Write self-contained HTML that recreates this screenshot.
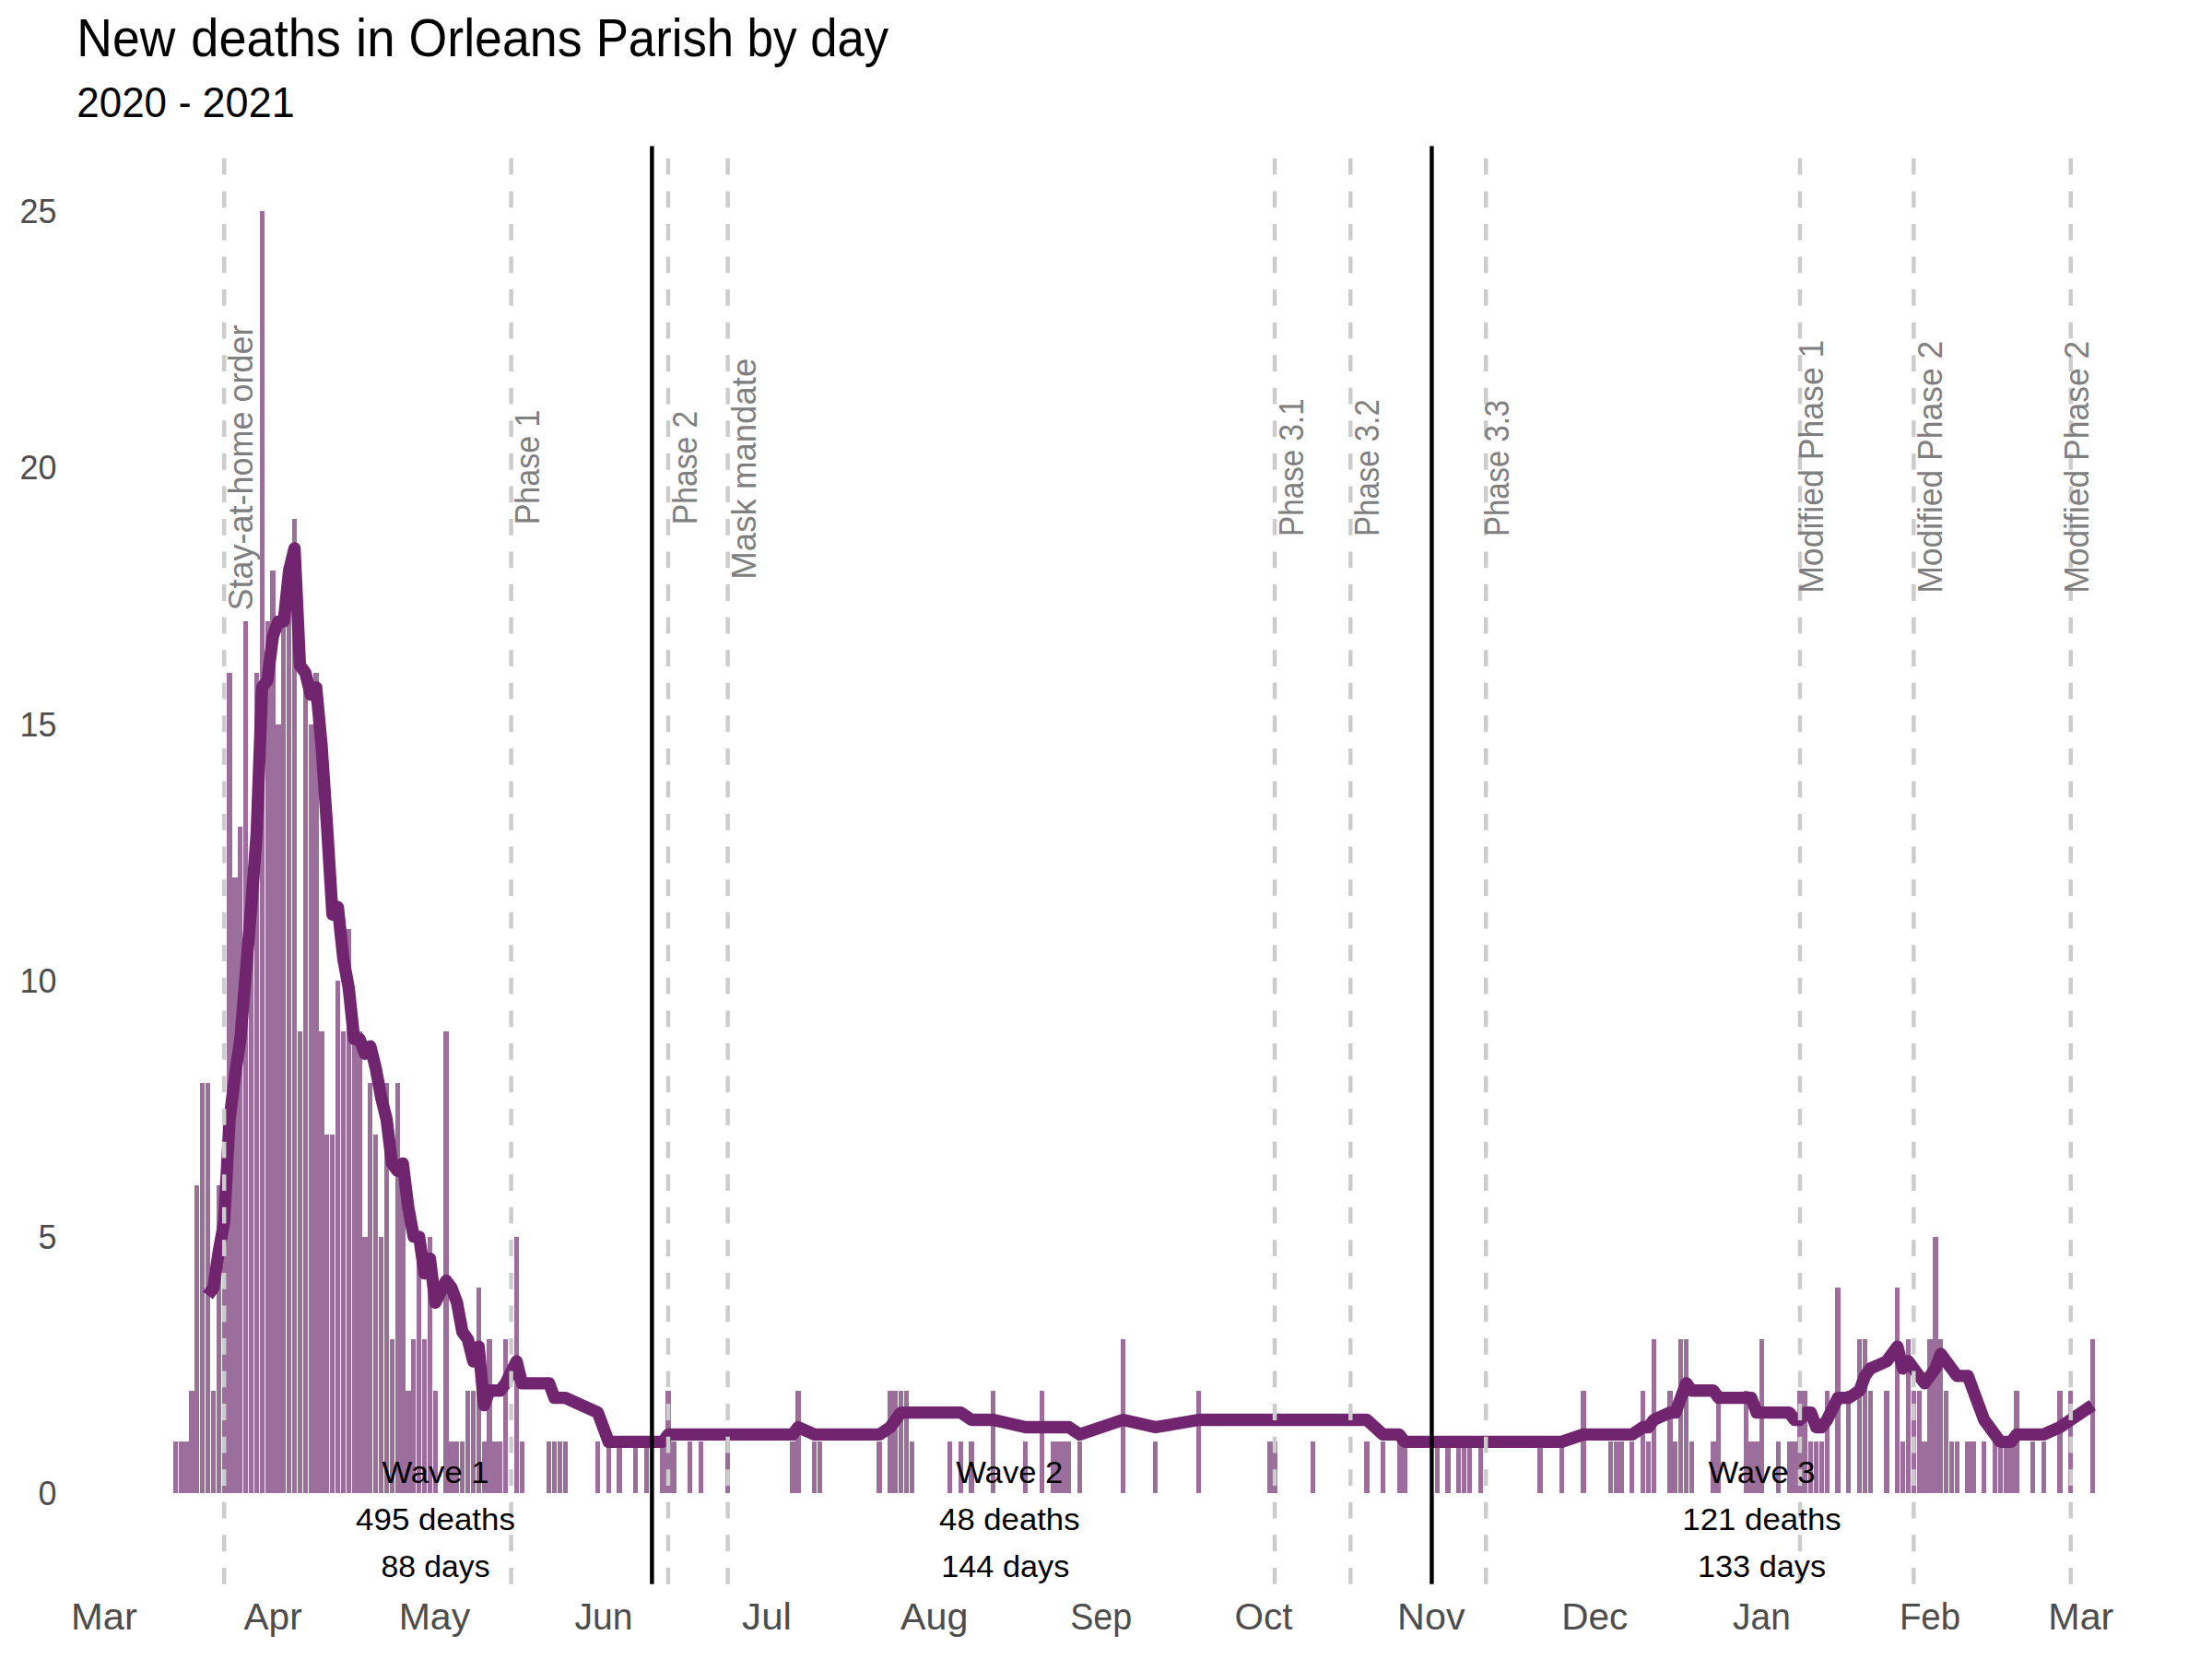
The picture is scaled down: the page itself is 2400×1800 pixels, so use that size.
<!DOCTYPE html>
<html><head><meta charset="utf-8"><title>New deaths in Orleans Parish by day</title>
<style>html,body{margin:0;padding:0;background:#fff}body{width:2400px;height:1800px;overflow:hidden}svg{display:block}text{font-family:"Liberation Sans",sans-serif}</style></head><body>
<svg width="2400" height="1800" viewBox="0 0 2400 1800">
<rect width="2400" height="1800" fill="#ffffff"/>
<g fill="#9B6E9B" shape-rendering="crispEdges">
<rect x="188" y="1564" width="5" height="56"/>
<rect x="194" y="1564" width="5" height="56"/>
<rect x="199" y="1564" width="6" height="56"/>
<rect x="205" y="1509" width="6" height="111"/>
<rect x="211" y="1286" width="5" height="334"/>
<rect x="217" y="1175" width="5" height="445"/>
<rect x="223" y="1175" width="5" height="445"/>
<rect x="229" y="1509" width="5" height="111"/>
<rect x="235" y="1286" width="5" height="334"/>
<rect x="241" y="1342" width="5" height="278"/>
<rect x="246" y="730" width="6" height="890"/>
<rect x="252" y="952" width="6" height="668"/>
<rect x="258" y="897" width="5" height="723"/>
<rect x="264" y="674" width="5" height="946"/>
<rect x="270" y="1008" width="5" height="612"/>
<rect x="276" y="730" width="5" height="890"/>
<rect x="282" y="229" width="5" height="1391"/>
<rect x="288" y="674" width="5" height="946"/>
<rect x="293" y="619" width="6" height="1001"/>
<rect x="299" y="786" width="6" height="834"/>
<rect x="305" y="674" width="5" height="946"/>
<rect x="311" y="619" width="5" height="1001"/>
<rect x="317" y="563" width="5" height="1057"/>
<rect x="323" y="1119" width="5" height="501"/>
<rect x="329" y="730" width="5" height="890"/>
<rect x="335" y="786" width="5" height="834"/>
<rect x="340" y="730" width="6" height="890"/>
<rect x="346" y="1119" width="6" height="501"/>
<rect x="352" y="1231" width="5" height="389"/>
<rect x="358" y="1231" width="5" height="389"/>
<rect x="364" y="1064" width="5" height="556"/>
<rect x="370" y="1119" width="5" height="501"/>
<rect x="376" y="1008" width="5" height="612"/>
<rect x="382" y="1119" width="5" height="501"/>
<rect x="387" y="1119" width="6" height="501"/>
<rect x="393" y="1342" width="6" height="278"/>
<rect x="399" y="1175" width="5" height="445"/>
<rect x="405" y="1231" width="5" height="389"/>
<rect x="411" y="1342" width="5" height="278"/>
<rect x="417" y="1175" width="5" height="445"/>
<rect x="423" y="1453" width="5" height="167"/>
<rect x="429" y="1175" width="5" height="445"/>
<rect x="434" y="1286" width="6" height="334"/>
<rect x="440" y="1509" width="6" height="111"/>
<rect x="446" y="1453" width="5" height="167"/>
<rect x="452" y="1342" width="5" height="278"/>
<rect x="458" y="1453" width="5" height="167"/>
<rect x="464" y="1342" width="5" height="278"/>
<rect x="470" y="1509" width="5" height="111"/>
<rect x="481" y="1119" width="6" height="501"/>
<rect x="487" y="1564" width="6" height="56"/>
<rect x="493" y="1564" width="5" height="56"/>
<rect x="499" y="1564" width="5" height="56"/>
<rect x="505" y="1509" width="5" height="111"/>
<rect x="511" y="1509" width="5" height="111"/>
<rect x="517" y="1397" width="5" height="223"/>
<rect x="523" y="1564" width="5" height="56"/>
<rect x="528" y="1453" width="6" height="167"/>
<rect x="534" y="1564" width="6" height="56"/>
<rect x="540" y="1564" width="5" height="56"/>
<rect x="546" y="1453" width="5" height="167"/>
<rect x="558" y="1342" width="5" height="278"/>
<rect x="564" y="1564" width="5" height="56"/>
<rect x="593" y="1564" width="5" height="56"/>
<rect x="599" y="1564" width="5" height="56"/>
<rect x="605" y="1564" width="5" height="56"/>
<rect x="611" y="1564" width="5" height="56"/>
<rect x="646" y="1564" width="5" height="56"/>
<rect x="658" y="1564" width="5" height="56"/>
<rect x="669" y="1564" width="6" height="56"/>
<rect x="687" y="1564" width="5" height="56"/>
<rect x="699" y="1564" width="5" height="56"/>
<rect x="716" y="1564" width="6" height="56"/>
<rect x="722" y="1509" width="6" height="111"/>
<rect x="728" y="1564" width="6" height="56"/>
<rect x="746" y="1564" width="5" height="56"/>
<rect x="758" y="1564" width="5" height="56"/>
<rect x="787" y="1564" width="5" height="56"/>
<rect x="857" y="1564" width="6" height="56"/>
<rect x="863" y="1509" width="6" height="111"/>
<rect x="881" y="1564" width="5" height="56"/>
<rect x="887" y="1564" width="5" height="56"/>
<rect x="951" y="1564" width="6" height="56"/>
<rect x="963" y="1509" width="6" height="111"/>
<rect x="969" y="1509" width="5" height="111"/>
<rect x="975" y="1509" width="5" height="111"/>
<rect x="981" y="1509" width="5" height="111"/>
<rect x="987" y="1564" width="5" height="56"/>
<rect x="1028" y="1564" width="5" height="56"/>
<rect x="1040" y="1564" width="5" height="56"/>
<rect x="1051" y="1564" width="6" height="56"/>
<rect x="1075" y="1509" width="5" height="111"/>
<rect x="1110" y="1564" width="5" height="56"/>
<rect x="1128" y="1509" width="5" height="111"/>
<rect x="1140" y="1564" width="5" height="56"/>
<rect x="1145" y="1564" width="6" height="56"/>
<rect x="1151" y="1564" width="6" height="56"/>
<rect x="1157" y="1564" width="5" height="56"/>
<rect x="1169" y="1564" width="5" height="56"/>
<rect x="1216" y="1453" width="5" height="167"/>
<rect x="1251" y="1564" width="5" height="56"/>
<rect x="1298" y="1509" width="5" height="111"/>
<rect x="1375" y="1564" width="5" height="56"/>
<rect x="1380" y="1564" width="6" height="56"/>
<rect x="1422" y="1564" width="5" height="56"/>
<rect x="1480" y="1564" width="6" height="56"/>
<rect x="1498" y="1564" width="5" height="56"/>
<rect x="1516" y="1564" width="5" height="56"/>
<rect x="1521" y="1564" width="6" height="56"/>
<rect x="1557" y="1564" width="5" height="56"/>
<rect x="1568" y="1564" width="6" height="56"/>
<rect x="1580" y="1564" width="5" height="56"/>
<rect x="1586" y="1564" width="5" height="56"/>
<rect x="1592" y="1564" width="5" height="56"/>
<rect x="1604" y="1564" width="5" height="56"/>
<rect x="1668" y="1564" width="6" height="56"/>
<rect x="1692" y="1564" width="5" height="56"/>
<rect x="1715" y="1509" width="6" height="111"/>
<rect x="1745" y="1564" width="5" height="56"/>
<rect x="1751" y="1564" width="5" height="56"/>
<rect x="1756" y="1564" width="6" height="56"/>
<rect x="1768" y="1564" width="5" height="56"/>
<rect x="1780" y="1509" width="5" height="111"/>
<rect x="1786" y="1564" width="5" height="56"/>
<rect x="1792" y="1453" width="5" height="167"/>
<rect x="1809" y="1509" width="6" height="111"/>
<rect x="1815" y="1564" width="5" height="56"/>
<rect x="1821" y="1453" width="5" height="167"/>
<rect x="1827" y="1453" width="5" height="167"/>
<rect x="1833" y="1564" width="5" height="56"/>
<rect x="1856" y="1564" width="6" height="56"/>
<rect x="1862" y="1509" width="5" height="111"/>
<rect x="1892" y="1509" width="5" height="111"/>
<rect x="1897" y="1564" width="6" height="56"/>
<rect x="1903" y="1564" width="6" height="56"/>
<rect x="1909" y="1453" width="5" height="167"/>
<rect x="1927" y="1564" width="5" height="56"/>
<rect x="1939" y="1564" width="5" height="56"/>
<rect x="1944" y="1564" width="6" height="56"/>
<rect x="1950" y="1509" width="6" height="111"/>
<rect x="1956" y="1509" width="5" height="111"/>
<rect x="1962" y="1564" width="5" height="56"/>
<rect x="1968" y="1564" width="5" height="56"/>
<rect x="1974" y="1564" width="5" height="56"/>
<rect x="1980" y="1509" width="5" height="111"/>
<rect x="1991" y="1397" width="6" height="223"/>
<rect x="2003" y="1509" width="5" height="111"/>
<rect x="2015" y="1453" width="5" height="167"/>
<rect x="2021" y="1453" width="5" height="167"/>
<rect x="2027" y="1509" width="5" height="111"/>
<rect x="2044" y="1509" width="6" height="111"/>
<rect x="2056" y="1397" width="5" height="223"/>
<rect x="2062" y="1564" width="5" height="56"/>
<rect x="2068" y="1453" width="5" height="167"/>
<rect x="2074" y="1509" width="5" height="111"/>
<rect x="2080" y="1509" width="5" height="111"/>
<rect x="2085" y="1564" width="6" height="56"/>
<rect x="2091" y="1453" width="6" height="167"/>
<rect x="2097" y="1342" width="6" height="278"/>
<rect x="2103" y="1453" width="5" height="167"/>
<rect x="2109" y="1509" width="5" height="111"/>
<rect x="2115" y="1564" width="5" height="56"/>
<rect x="2121" y="1564" width="5" height="56"/>
<rect x="2132" y="1564" width="6" height="56"/>
<rect x="2138" y="1564" width="6" height="56"/>
<rect x="2150" y="1564" width="5" height="56"/>
<rect x="2162" y="1564" width="5" height="56"/>
<rect x="2168" y="1564" width="5" height="56"/>
<rect x="2174" y="1564" width="5" height="56"/>
<rect x="2179" y="1564" width="6" height="56"/>
<rect x="2185" y="1509" width="6" height="111"/>
<rect x="2203" y="1564" width="5" height="56"/>
<rect x="2215" y="1564" width="5" height="56"/>
<rect x="2232" y="1509" width="6" height="111"/>
<rect x="2244" y="1509" width="5" height="111"/>
<rect x="2268" y="1453" width="5" height="167"/>
</g>
<polyline points="225.57,1405.44 231.45,1397.50 237.33,1357.76 243.20,1325.98 249.08,1214.72 254.95,1167.05 260.83,1127.31 266.70,1055.79 272.58,984.27 278.45,904.81 284.33,745.88 290.20,737.93 296.08,690.25 301.96,674.36 307.83,674.36 313.71,618.73 319.58,594.89 325.46,722.04 331.33,729.98 337.21,753.82 343.08,745.88 348.96,809.45 354.84,896.86 360.71,992.22 366.59,984.27 372.46,1039.90 378.34,1071.69 384.21,1127.31 390.09,1127.31 395.96,1143.21 401.84,1135.26 407.71,1159.10 413.59,1190.89 419.47,1214.72 425.34,1262.40 431.22,1270.35 437.09,1262.40 442.97,1310.08 448.84,1341.87 454.72,1341.87 460.59,1381.60 466.47,1365.71 472.35,1413.39 484.10,1389.55 489.97,1397.50 495.85,1413.39 501.72,1445.18 507.60,1453.12 513.47,1476.96 519.35,1461.07 525.22,1524.64 531.10,1508.75 536.98,1508.75 542.85,1508.75 548.73,1500.80 560.48,1476.96 566.35,1500.80 595.73,1500.80 601.61,1516.69 607.48,1516.69 613.36,1516.69 648.61,1532.59 660.36,1564.37 672.11,1564.37 689.74,1564.37 701.49,1564.37 719.12,1564.37 724.99,1556.43 730.87,1556.43 748.49,1556.43 760.24,1556.43 789.62,1556.43 860.13,1556.43 866.00,1548.48 883.63,1556.43 889.51,1556.43 954.14,1556.43 965.89,1548.48 971.76,1540.53 977.64,1532.59 983.51,1532.59 989.39,1532.59 1030.52,1532.59 1042.27,1532.59 1054.02,1540.53 1077.52,1540.53 1112.77,1548.48 1130.40,1548.48 1142.15,1548.48 1148.03,1548.48 1153.90,1548.48 1159.78,1548.48 1171.53,1556.43 1218.53,1540.53 1253.79,1548.48 1300.79,1540.53 1377.17,1540.53 1383.05,1540.53 1424.18,1540.53 1482.93,1540.53 1500.56,1556.43 1518.18,1556.43 1524.06,1564.37 1559.31,1564.37 1571.06,1564.37 1582.82,1564.37 1588.69,1564.37 1594.57,1564.37 1606.32,1564.37 1670.95,1564.37 1694.45,1564.37 1717.95,1556.43 1747.33,1556.43 1753.20,1556.43 1759.08,1556.43 1770.83,1556.43 1782.58,1548.48 1788.46,1548.48 1794.33,1540.53 1811.96,1532.59 1817.84,1532.59 1823.71,1516.69 1829.59,1500.80 1835.46,1508.75 1858.96,1508.75 1864.84,1516.69 1894.22,1516.69 1900.09,1516.69 1905.97,1532.59 1911.84,1532.59 1929.47,1532.59 1941.22,1532.59 1947.10,1540.53 1952.97,1540.53 1958.85,1532.59 1964.72,1532.59 1970.60,1548.48 1976.47,1548.48 1982.35,1540.53 1994.10,1516.69 2005.85,1516.69 2017.60,1508.75 2023.48,1492.85 2029.35,1484.91 2046.98,1476.96 2058.73,1461.07 2064.61,1484.91 2070.48,1476.96 2076.36,1484.91 2082.23,1492.85 2088.11,1500.80 2093.98,1492.85 2099.86,1484.91 2105.73,1469.02 2111.61,1476.96 2117.49,1484.91 2123.36,1492.85 2135.11,1492.85 2140.99,1508.75 2152.74,1540.53 2164.49,1556.43 2170.36,1564.37 2176.24,1564.37 2182.12,1564.37 2187.99,1556.43 2205.62,1556.43 2217.37,1556.43 2235.00,1548.48 2246.75,1540.53 2270.25,1524.64" fill="none" stroke="#71256E" stroke-width="13.34" stroke-linejoin="round" stroke-linecap="butt"/>
<g stroke="#CCCCCC" stroke-width="4.445" stroke-dasharray="17.78 17.78" fill="none">
<line x1="243.20" y1="1718.70" x2="243.20" y2="158.40"/>
<line x1="554.60" y1="1718.70" x2="554.60" y2="158.40"/>
<line x1="724.99" y1="1718.70" x2="724.99" y2="158.40"/>
<line x1="789.62" y1="1718.70" x2="789.62" y2="158.40"/>
<line x1="1383.05" y1="1718.70" x2="1383.05" y2="158.40"/>
<line x1="1465.31" y1="1718.70" x2="1465.31" y2="158.40"/>
<line x1="1612.19" y1="1718.70" x2="1612.19" y2="158.40"/>
<line x1="1952.97" y1="1718.70" x2="1952.97" y2="158.40"/>
<line x1="2076.36" y1="1718.70" x2="2076.36" y2="158.40"/>
<line x1="2246.75" y1="1718.70" x2="2246.75" y2="158.40"/>
</g>
<g stroke="#000" stroke-width="4.445">
<line x1="707.37" y1="1718.70" x2="707.37" y2="158.40"/>
<line x1="1553.44" y1="1718.70" x2="1553.44" y2="158.40"/>
</g>
<g fill="#7F7F7F" font-size="36.3" text-anchor="middle">
<text transform="translate(274.05,507.50) rotate(-90)" textLength="310.0" lengthAdjust="spacingAndGlyphs">Stay-at-home order</text>
<text transform="translate(585.45,506.90) rotate(-90)" textLength="124.9" lengthAdjust="spacingAndGlyphs">Phase 1</text>
<text transform="translate(755.84,507.50) rotate(-90)" textLength="123.7" lengthAdjust="spacingAndGlyphs">Phase 2</text>
<text transform="translate(820.47,508.70) rotate(-90)" textLength="239.9" lengthAdjust="spacingAndGlyphs">Mask mandate</text>
<text transform="translate(1413.90,507.10) rotate(-90)" textLength="149.8" lengthAdjust="spacingAndGlyphs">Phase 3.1</text>
<text transform="translate(1496.15,507.60) rotate(-90)" textLength="148.7" lengthAdjust="spacingAndGlyphs">Phase 3.2</text>
<text transform="translate(1637.17,507.90) rotate(-90)" textLength="148.1" lengthAdjust="spacingAndGlyphs">Phase 3.3</text>
<text transform="translate(1977.95,506.20) rotate(-90)" textLength="275.2" lengthAdjust="spacingAndGlyphs">Modified Phase 1</text>
<text transform="translate(2107.21,506.80) rotate(-90)" textLength="274.0" lengthAdjust="spacingAndGlyphs">Modified Phase 2</text>
<text transform="translate(2265.85,506.80) rotate(-90)" textLength="274.0" lengthAdjust="spacingAndGlyphs">Modified Phase 2</text>
</g>
<g fill="#000" font-size="34" text-anchor="middle">
<text x="472.50" y="1608.70" textLength="116.2" lengthAdjust="spacingAndGlyphs">Wave 1</text>
<text x="472.50" y="1659.50" textLength="172.9" lengthAdjust="spacingAndGlyphs">495 deaths</text>
<text x="472.50" y="1710.70" textLength="118.0" lengthAdjust="spacingAndGlyphs">88 days</text>
<text x="1095.30" y="1608.70" textLength="116.2" lengthAdjust="spacingAndGlyphs">Wave 2</text>
<text x="1095.30" y="1659.50" textLength="152.4" lengthAdjust="spacingAndGlyphs">48 deaths</text>
<text x="1090.80" y="1710.70" textLength="139.2" lengthAdjust="spacingAndGlyphs">144 days</text>
<text x="1911.50" y="1608.70" textLength="116.2" lengthAdjust="spacingAndGlyphs">Wave 3</text>
<text x="1911.50" y="1659.50" textLength="172.4" lengthAdjust="spacingAndGlyphs">121 deaths</text>
<text x="1911.50" y="1710.70" textLength="139.1" lengthAdjust="spacingAndGlyphs">133 days</text>
</g>
<g fill="#4D4D4D" font-size="36" text-anchor="end">
<text x="61.50" y="1633.00">0</text>
<text x="61.50" y="1354.87">5</text>
<text x="61.50" y="1076.74">10</text>
<text x="61.50" y="798.61">15</text>
<text x="61.50" y="520.48">20</text>
<text x="61.50" y="242.35">25</text>
</g>
<g fill="#4D4D4D" font-size="41.5">
<text x="77.08" y="1767.80" textLength="71.83" lengthAdjust="spacingAndGlyphs">Mar</text>
<text x="264.50" y="1767.80" textLength="63.22" lengthAdjust="spacingAndGlyphs">Apr</text>
<text x="432.63" y="1767.80" textLength="77.62" lengthAdjust="spacingAndGlyphs">May</text>
<text x="623.40" y="1767.80" textLength="63.06" lengthAdjust="spacingAndGlyphs">Jun</text>
<text x="805.10" y="1767.80" textLength="53.85" lengthAdjust="spacingAndGlyphs">Jul</text>
<text x="977.10" y="1767.80" textLength="73.37" lengthAdjust="spacingAndGlyphs">Aug</text>
<text x="1161.19" y="1767.80" textLength="66.99" lengthAdjust="spacingAndGlyphs">Sep</text>
<text x="1339.53" y="1767.80" textLength="62.92" lengthAdjust="spacingAndGlyphs">Oct</text>
<text x="1516.11" y="1767.80" textLength="73.44" lengthAdjust="spacingAndGlyphs">Nov</text>
<text x="1694.17" y="1767.80" textLength="72.06" lengthAdjust="spacingAndGlyphs">Dec</text>
<text x="1880.10" y="1767.80" textLength="62.65" lengthAdjust="spacingAndGlyphs">Jan</text>
<text x="2060.92" y="1767.80" textLength="66.18" lengthAdjust="spacingAndGlyphs">Feb</text>
<text x="2222.32" y="1767.80" textLength="71.0" lengthAdjust="spacingAndGlyphs">Mar</text>
</g>
<g fill="#000" font-size="57">
<text x="83.35" y="61.0" textLength="106.97" lengthAdjust="spacingAndGlyphs">New</text>
<text x="207.30" y="61.0" textLength="162.63" lengthAdjust="spacingAndGlyphs">deaths</text>
<text x="386.02" y="61.0" textLength="42.52" lengthAdjust="spacingAndGlyphs">in</text>
<text x="443.52" y="61.0" textLength="188.0" lengthAdjust="spacingAndGlyphs">Orleans</text>
<text x="646.70" y="61.0" textLength="149.53" lengthAdjust="spacingAndGlyphs">Parish</text>
<text x="810.50" y="61.0" textLength="54.25" lengthAdjust="spacingAndGlyphs">by</text>
<text x="879.15" y="61.0" textLength="84.99" lengthAdjust="spacingAndGlyphs">day</text>
</g>
<g fill="#000" font-size="45.5">
<text x="83.37" y="127.3" textLength="97.69" lengthAdjust="spacingAndGlyphs">2020</text>
<text x="193.78" y="127.3" textLength="13.76" lengthAdjust="spacingAndGlyphs">-</text>
<text x="219.62" y="127.3" textLength="100.07" lengthAdjust="spacingAndGlyphs">2021</text>
</g>
</svg></body></html>
